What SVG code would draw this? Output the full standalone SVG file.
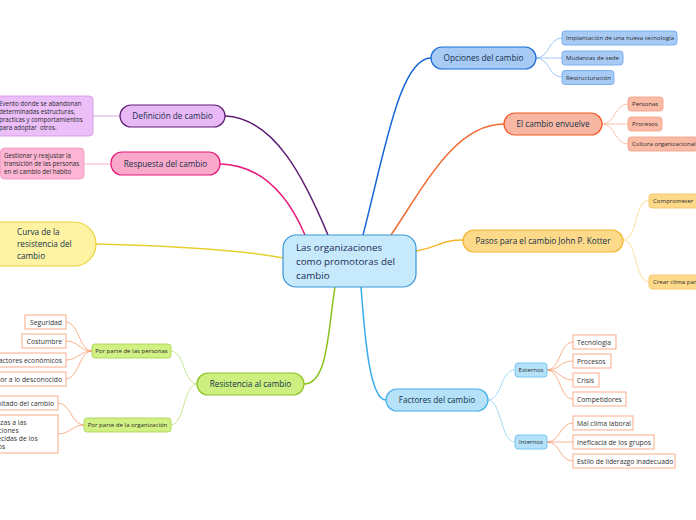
<svg xmlns="http://www.w3.org/2000/svg" width="696" height="520" viewBox="0 0 696 520">
<style>
text{font-family:"Open Sans","Noto Sans","DejaVu Sans",sans-serif}
.main{font-size:8.2px;fill:#14324a;text-anchor:middle}
.root{font-size:9.8px;fill:#1c2b5a}
.sub{font-size:6.1px;fill:#2a2a2a}
.leaf{font-size:6.8px;fill:#333}
.c{fill:none;stroke-linecap:round}
.m{stroke-width:1.5}
.s{stroke-width:0.8}
.wb{fill:#fff;stroke:#f9a27c;stroke-width:0.9}
</style>
<rect width="696" height="520" fill="#fff"/>
<g id="connectors">
<path class="c m" stroke="#5d1a72" d="M225,116 C275,118 305,180 328,235"/>
<path class="c m" stroke="#e8197c" d="M220,164 C265,165 290,200 305,235"/>
<path class="c m" stroke="#1565d8" d="M363,235 C385,150 400,58 431,58"/>
<path class="c m" stroke="#f26a32" d="M391,235 C425,185 455,124 504,124"/>
<path class="c m" stroke="#f7b52c" d="M416,251 C440,247 440,240 463,240"/>
<path class="c m" stroke="#e6cf2e" d="M96,244 C180,246 240,250 283,258"/>
<path class="c m" stroke="#88c01c" d="M335,287 C328,330 328,384 304,384"/>
<path class="c m" stroke="#37aaeb" d="M361,287 C365,340 370,400 386,400"/>
<g stroke="#8ab6f0" class="c s">
<path d="M536,58 C550,58 548,38 562,38"/>
<path d="M536,58 L562,58"/>
<path d="M536,58 C550,58 548,77 562,77"/>
</g>
<g stroke="#f8b39a" class="c s">
<path d="M602,124 C616,124 614,104 628,104"/>
<path d="M602,124 L628,124"/>
<path d="M602,124 C616,124 614,144 628,144"/>
</g>
<g stroke="#fbd27f" class="c s">
<path d="M623,240 C638,240 634,200 649,200"/>
<path d="M623,240 C638,240 634,282 649,282"/>
</g>
<g stroke="#8dd0f3" class="c s">
<path d="M488,400 C502,400 500,370 515,370"/>
<path d="M488,400 C502,400 500,442 515,442"/>
</g>
<g stroke="#f99a70" class="c s">
<path d="M547,370 C561,370 559,342 573,342"/>
<path d="M547,370 C561,370 559,361 573,361"/>
<path d="M547,370 C561,370 559,380 573,380"/>
<path d="M547,370 C561,370 559,399 573,399"/>
<path d="M547,442 C561,442 559,423 573,423"/>
<path d="M547,442 C561,442 559,442 573,442"/>
<path d="M547,442 C561,442 559,461 573,461"/>
</g>
<g stroke="#b8df78" class="c s">
<path d="M197,384 C183,384 185,351 171,351"/>
<path d="M197,384 C183,384 185,425 171,425"/>
</g>
<g stroke="#f99a70" class="c s">
<path d="M92,351 C79,351 79,322 66,322"/>
<path d="M92,351 C79,351 79,341 66,341"/>
<path d="M92,351 C79,351 79,360 66,360"/>
<path d="M92,351 C79,351 79,379 66,379"/>
<path d="M84,425 C71,425 71,403 58,403"/>
<path d="M84,425 C71,425 71,434 58,434"/>
</g>
<path class="c s" stroke="#c88fdc" d="M120,116 L93,116"/>
<path class="c s" stroke="#f49cc3" d="M111,164 L84,164"/>
</g>
<g id="root">
<rect x="283" y="235" width="133" height="52" rx="13" fill="#c6e9fb" stroke="#3a95d6" stroke-width="1.2"/>
<text class="root" x="296" y="251">Las organizaciones</text>
<text class="root" x="296" y="265">como promotoras del</text>
<text class="root" x="296" y="279">cambio</text>
</g>
<g id="opciones">
<rect x="431" y="47" width="105" height="22" rx="11" fill="#a8cbf6" stroke="#1b6ad6" stroke-width="1.2"/>
<text class="main" x="483.5" y="61">Opciones del cambio</text>
</g>
<g id="opciones-hijos">
<rect x="562" y="31" width="115" height="14" rx="3" fill="#a8cbf6" stroke="#74a8ee" stroke-width="0.9"/>
<text class="sub" x="566" y="40.2">Implantación de una nueva tecnología</text>
<rect x="562" y="51" width="61" height="14" rx="3" fill="#a8cbf6" stroke="#74a8ee" stroke-width="0.9"/>
<text class="sub" x="566" y="60.2">Mudanzas de sede</text>
<rect x="562" y="70.5" width="52" height="14" rx="3" fill="#a8cbf6" stroke="#74a8ee" stroke-width="0.9"/>
<text class="sub" x="566" y="79.7">Restructuración</text>
</g>
<g id="envuelve">
<rect x="504" y="113" width="98" height="22" rx="11" fill="#f8b7a2" stroke="#f05a24" stroke-width="1.2"/>
<text class="main" x="553" y="127">El cambio envuelve</text>
</g>
<g id="envuelve-hijos">
<rect x="628" y="97" width="35" height="14" rx="3" fill="#f9bba6" stroke="#f4a58a" stroke-width="0.9"/>
<text class="sub" x="632" y="106.2">Personas</text>
<rect x="628" y="117" width="34" height="14" rx="3" fill="#f9bba6" stroke="#f4a58a" stroke-width="0.9"/>
<text class="sub" x="632" y="126.2">Procesos</text>
<rect x="628" y="137" width="70" height="14" rx="3" fill="#f9bba6" stroke="#f4a58a" stroke-width="0.9"/>
<text class="sub" x="632" y="146.2">Cultura organizacional</text>
</g>
<g id="kotter">
<rect x="463" y="230" width="160" height="22" rx="11" fill="#fdd98a" stroke="#f5b52e" stroke-width="1.2"/>
<text class="main" x="543" y="244">Pasos para el cambio John P. Kotter</text>
</g>
<g id="kotter-hijos">
<rect x="649" y="194" width="60" height="14" rx="3" fill="#fdd98a" stroke="#f5c56a" stroke-width="0.9"/>
<text class="sub" x="653" y="203.2">Comprometer</text>
<rect x="649" y="275" width="80" height="14" rx="3" fill="#fdd98a" stroke="#f5c56a" stroke-width="0.9"/>
<text class="sub" x="653" y="284.2">Crear clima para el cambio</text>
</g>
<g id="factores">
<rect x="386" y="389" width="102" height="22" rx="11" fill="#b5e2f9" stroke="#45b0ea" stroke-width="1.2"/>
<text class="main" x="437" y="403">Factores del cambio</text>
</g>
<g id="externos">
<rect x="515" y="363" width="32" height="14" rx="3" fill="#b5e2f9" stroke="#6cc2ef" stroke-width="0.9"/>
<text class="sub" x="531" y="372.2" text-anchor="middle">Externos</text>
</g>
<g id="internos">
<rect x="515" y="435" width="32" height="14" rx="3" fill="#b5e2f9" stroke="#6cc2ef" stroke-width="0.9"/>
<text class="sub" x="531" y="444.2" text-anchor="middle">Internos</text>
</g>
<g id="factores-hojas">
<rect class="wb" x="573" y="335" width="43" height="14"/>
<text class="leaf" x="577" y="344.5">Tecnología</text>
<rect class="wb" x="573" y="354" width="38" height="14"/>
<text class="leaf" x="577" y="363.5">Procesos</text>
<rect class="wb" x="573" y="373" width="26" height="14"/>
<text class="leaf" x="577" y="382.5">Crisis</text>
<rect class="wb" x="573" y="392" width="53" height="14"/>
<text class="leaf" x="577" y="401.5">Competidores</text>
<rect class="wb" x="573" y="416" width="60" height="14"/>
<text class="leaf" x="577" y="425.5">Mal clima laboral</text>
<rect class="wb" x="573" y="435" width="81" height="14"/>
<text class="leaf" x="577" y="444.5">Ineficacia de los grupos</text>
<rect class="wb" x="573" y="454" width="102" height="14"/>
<text class="leaf" x="577" y="463.5">Estilo de liderazgo inadecuado</text>
</g>
<g id="resistencia">
<rect x="197" y="373" width="107" height="22" rx="11" fill="#cdef7f" stroke="#8cc325" stroke-width="1.2"/>
<text class="main" x="250.5" y="387">Resistencia al cambio</text>
</g>
<g id="personas">
<rect x="92" y="344" width="79" height="14" rx="3" fill="#d2f184" stroke="#a8d655" stroke-width="0.9"/>
<text class="sub" x="131.5" y="353.2" text-anchor="middle">Por parte de las personas</text>
</g>
<g id="organizacion">
<rect x="84" y="418" width="87" height="14" rx="3" fill="#d2f184" stroke="#a8d655" stroke-width="0.9"/>
<text class="sub" x="127.5" y="427.2" text-anchor="middle">Por parte de la organización</text>
</g>
<g id="resistencia-hojas">
<rect class="wb" x="25" y="315" width="41" height="14"/>
<text class="leaf" x="62" y="324.5" text-anchor="end">Seguridad</text>
<rect class="wb" x="22" y="334" width="44" height="14"/>
<text class="leaf" x="62" y="343.5" text-anchor="end">Costumbre</text>
<rect class="wb" x="-10" y="353" width="76" height="14"/>
<text class="leaf" x="62" y="362.5" text-anchor="end">Factores económicos</text>
<rect class="wb" x="-20" y="372" width="86" height="14"/>
<text class="leaf" x="62" y="381.5" text-anchor="end">Temor a lo desconocido</text>
<rect class="wb" x="-36" y="396" width="94" height="14"/>
<text class="leaf" x="54" y="405.5" text-anchor="end">Enfoque limitado del cambio</text>
<rect class="wb" x="-26" y="415" width="84" height="38"/>
<text class="leaf" x="-22" y="425">Amenazas a las</text>
<text class="leaf" x="-22" y="433">asignaciones</text>
<text class="leaf" x="-22" y="441">establecidas de los</text>
<text class="leaf" x="-22" y="449">recursos</text>
</g>
<g id="definicion">
<rect x="120" y="105" width="105" height="22" rx="11" fill="#e9b8f6" stroke="#5d1f72" stroke-width="1.2"/>
<text class="main" x="172.5" y="119">Definición de cambio</text>
</g>
<g id="definicion-nota">
<rect x="-10" y="96" width="103" height="40" rx="4" fill="#ecbff8" stroke="#d09ae2" stroke-width="0.9"/>
<text class="sub" x="-1" y="106" style="font-size:6.2px">Evento donde se abandonan</text>
<text class="sub" x="-1" y="114" style="font-size:6.2px">determinadas estructuras,</text>
<text class="sub" x="-1" y="122" style="font-size:6.2px">practicas y comportamientos</text>
<text class="sub" x="-1" y="130" style="font-size:6.2px">para adoptar &#160;otros.</text>
</g>
<g id="respuesta">
<rect x="111" y="152" width="109" height="23" rx="11" fill="#fba9cb" stroke="#e6187b" stroke-width="1.2"/>
<text class="main" x="165.5" y="166.5">Respuesta del cambio</text>
</g>
<g id="respuesta-nota">
<rect x="0.5" y="148" width="83.5" height="31" rx="4" fill="#fcb5d3" stroke="#f39cc2" stroke-width="0.9"/>
<text class="sub" x="4" y="157.5" style="font-size:6.2px">Gestionar y reajustar la</text>
<text class="sub" x="4" y="165.5" style="font-size:6.2px">transición de las personas</text>
<text class="sub" x="4" y="173.5" style="font-size:6.2px">en el cambio del habito</text>
</g>
<g id="curva">
<rect x="-40" y="222" width="136" height="44" rx="22" fill="#fdf3a2" stroke="#e9d23a" stroke-width="1.2"/>
<text class="main" x="17" y="235" style="text-anchor:start">Curva de la</text>
<text class="main" x="17" y="247" style="text-anchor:start">resistencia del</text>
<text class="main" x="17" y="259" style="text-anchor:start">cambio</text>
</g>
</svg>
